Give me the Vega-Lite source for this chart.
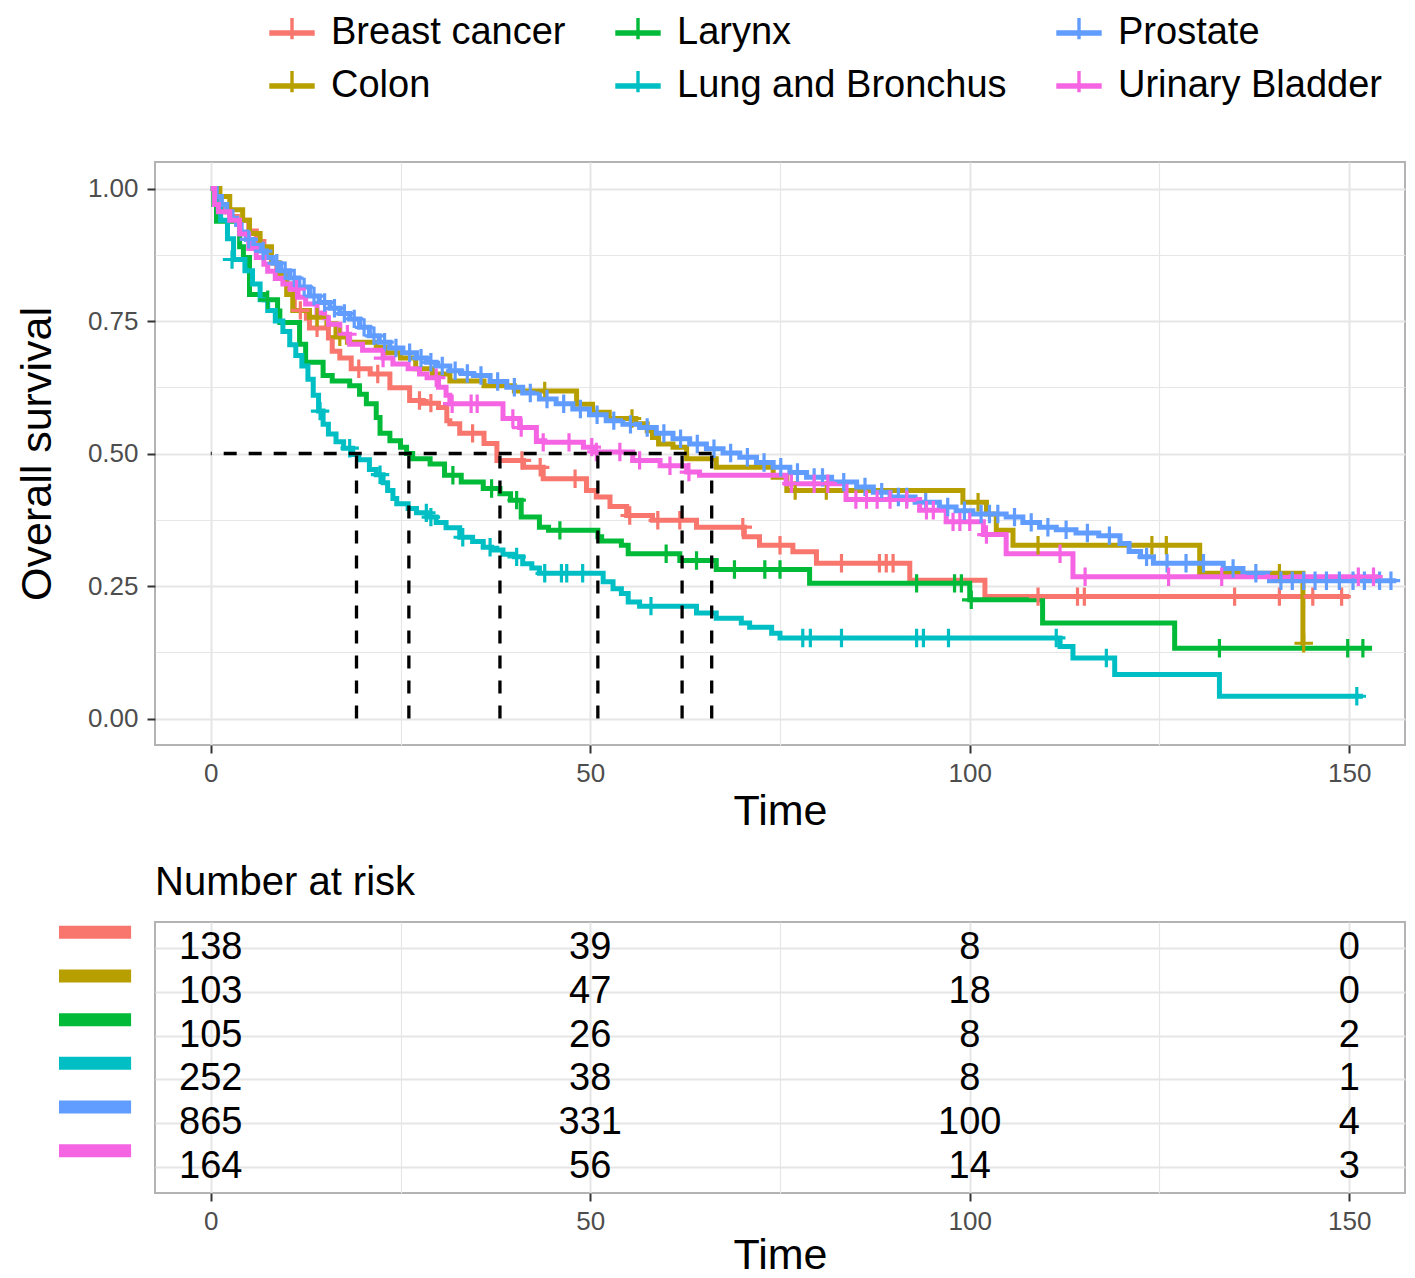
{
"$schema": "https://vega.github.io/schema/vega-lite/v6.json",
"background": "white",
"padding": {"left": 15, "top": 9, "right": 5, "bottom": 5},
"spacing": 28,
"datasets": {
"km": [
{"g":"Breast cancer","t":0,"s":1},{"g":"Breast cancer","t":0.8,"s":0.97},{"g":"Breast cancer","t":1.5,"s":0.956},{"g":"Breast cancer","t":2.5,"s":0.947},{"g":"Breast cancer","t":3.5,"s":0.94},{"g":"Breast cancer","t":5,"s":0.92},{"g":"Breast cancer","t":6,"s":0.9},{"g":"Breast cancer","t":7,"s":0.88},{"g":"Breast cancer","t":8,"s":0.86},{"g":"Breast cancer","t":8.7,"s":0.84},{"g":"Breast cancer","t":10,"s":0.82},{"g":"Breast cancer","t":11,"s":0.77},{"g":"Breast cancer","t":12.6,"s":0.755},{"g":"Breast cancer","t":13,"s":0.737},{"g":"Breast cancer","t":15.5,"s":0.718},{"g":"Breast cancer","t":16,"s":0.693},{"g":"Breast cancer","t":17,"s":0.68},{"g":"Breast cancer","t":18.5,"s":0.66},{"g":"Breast cancer","t":21,"s":0.65},{"g":"Breast cancer","t":23.6,"s":0.624},{"g":"Breast cancer","t":26.2,"s":0.6},{"g":"Breast cancer","t":28,"s":0.595},{"g":"Breast cancer","t":30,"s":0.587},{"g":"Breast cancer","t":31.1,"s":0.562},{"g":"Breast cancer","t":31.5,"s":0.556},{"g":"Breast cancer","t":32.8,"s":0.538},{"g":"Breast cancer","t":36,"s":0.519},{"g":"Breast cancer","t":37.7,"s":0.487},{"g":"Breast cancer","t":41.2,"s":0.474},{"g":"Breast cancer","t":43.8,"s":0.4525},{"g":"Breast cancer","t":49.5,"s":0.43},{"g":"Breast cancer","t":50.8,"s":0.418},{"g":"Breast cancer","t":52.6,"s":0.4},{"g":"Breast cancer","t":54.8,"s":0.383},{"g":"Breast cancer","t":58.2,"s":0.374},{"g":"Breast cancer","t":64,"s":0.361},{"g":"Breast cancer","t":70.3,"s":0.343},{"g":"Breast cancer","t":72.3,"s":0.327},{"g":"Breast cancer","t":76.7,"s":0.3146},{"g":"Breast cancer","t":79.8,"s":0.293},{"g":"Breast cancer","t":92.1,"s":0.261},{"g":"Breast cancer","t":102,"s":0.23},{"g":"Breast cancer","t":150,"s":0.23},
{"g":"Colon","t":0,"s":1},{"g":"Colon","t":1.2,"s":0.985},{"g":"Colon","t":2.5,"s":0.96},{"g":"Colon","t":4.2,"s":0.94},{"g":"Colon","t":5.1,"s":0.915},{"g":"Colon","t":6.5,"s":0.89},{"g":"Colon","t":8,"s":0.86},{"g":"Colon","t":9,"s":0.84},{"g":"Colon","t":10,"s":0.8},{"g":"Colon","t":10.8,"s":0.77},{"g":"Colon","t":13,"s":0.757},{"g":"Colon","t":15.3,"s":0.745},{"g":"Colon","t":16.5,"s":0.72},{"g":"Colon","t":18,"s":0.71},{"g":"Colon","t":21.8,"s":0.7},{"g":"Colon","t":23,"s":0.69},{"g":"Colon","t":25,"s":0.68},{"g":"Colon","t":27,"s":0.66},{"g":"Colon","t":29.2,"s":0.65},{"g":"Colon","t":31.5,"s":0.637},{"g":"Colon","t":36,"s":0.628},{"g":"Colon","t":40,"s":0.618},{"g":"Colon","t":48.2,"s":0.593},{"g":"Colon","t":50.3,"s":0.578},{"g":"Colon","t":52.5,"s":0.566},{"g":"Colon","t":56,"s":0.556},{"g":"Colon","t":57.5,"s":0.543},{"g":"Colon","t":58.2,"s":0.53},{"g":"Colon","t":59,"s":0.518},{"g":"Colon","t":60.9,"s":0.512},{"g":"Colon","t":62.7,"s":0.49},{"g":"Colon","t":66.6,"s":0.474},{"g":"Colon","t":74.1,"s":0.455},{"g":"Colon","t":75.9,"s":0.43},{"g":"Colon","t":99.1,"s":0.408},{"g":"Colon","t":102.2,"s":0.386},{"g":"Colon","t":103.5,"s":0.355},{"g":"Colon","t":105.7,"s":0.327},{"g":"Colon","t":130.3,"s":0.274},{"g":"Colon","t":143.9,"s":0.142},{"g":"Colon","t":144.1,"s":0.142},
{"g":"Larynx","t":0,"s":1},{"g":"Larynx","t":0.4,"s":0.97},{"g":"Larynx","t":0.75,"s":0.938},{"g":"Larynx","t":3.8,"s":0.89},{"g":"Larynx","t":4.3,"s":0.87},{"g":"Larynx","t":5.1,"s":0.8},{"g":"Larynx","t":7.1,"s":0.79},{"g":"Larynx","t":8.8,"s":0.769},{"g":"Larynx","t":9.1,"s":0.747},{"g":"Larynx","t":11.7,"s":0.706},{"g":"Larynx","t":12.5,"s":0.672},{"g":"Larynx","t":14.8,"s":0.647},{"g":"Larynx","t":16,"s":0.637},{"g":"Larynx","t":18.3,"s":0.628},{"g":"Larynx","t":19.6,"s":0.612},{"g":"Larynx","t":20.5,"s":0.594},{"g":"Larynx","t":21.8,"s":0.568},{"g":"Larynx","t":22.3,"s":0.538},{"g":"Larynx","t":23.6,"s":0.524},{"g":"Larynx","t":25,"s":0.512},{"g":"Larynx","t":25.8,"s":0.5},{"g":"Larynx","t":26.6,"s":0.49},{"g":"Larynx","t":28.9,"s":0.48},{"g":"Larynx","t":30.8,"s":0.459},{"g":"Larynx","t":33,"s":0.446},{"g":"Larynx","t":35.9,"s":0.434},{"g":"Larynx","t":38.1,"s":0.424},{"g":"Larynx","t":39.5,"s":0.412},{"g":"Larynx","t":40.9,"s":0.38},{"g":"Larynx","t":43.3,"s":0.361},{"g":"Larynx","t":44.5,"s":0.355},{"g":"Larynx","t":51,"s":0.343},{"g":"Larynx","t":51.5,"s":0.335},{"g":"Larynx","t":54.1,"s":0.327},{"g":"Larynx","t":55,"s":0.311},{"g":"Larynx","t":61.8,"s":0.298},{"g":"Larynx","t":66.6,"s":0.281},{"g":"Larynx","t":78.9,"s":0.255},{"g":"Larynx","t":100,"s":0.224},{"g":"Larynx","t":109.6,"s":0.18},{"g":"Larynx","t":127,"s":0.1325},{"g":"Larynx","t":153,"s":0.1325},
{"g":"Lung and Bronchus","t":0,"s":1},{"g":"Lung and Bronchus","t":0.7,"s":0.97},{"g":"Lung and Bronchus","t":1.3,"s":0.94},{"g":"Lung and Bronchus","t":2.2,"s":0.905},{"g":"Lung and Bronchus","t":3,"s":0.866},{"g":"Lung and Bronchus","t":4.5,"s":0.845},{"g":"Lung and Bronchus","t":5.5,"s":0.82},{"g":"Lung and Bronchus","t":6.5,"s":0.79},{"g":"Lung and Bronchus","t":7.5,"s":0.77},{"g":"Lung and Bronchus","t":8.5,"s":0.75},{"g":"Lung and Bronchus","t":9.5,"s":0.73},{"g":"Lung and Bronchus","t":10.4,"s":0.705},{"g":"Lung and Bronchus","t":11.2,"s":0.685},{"g":"Lung and Bronchus","t":12,"s":0.665},{"g":"Lung and Bronchus","t":12.8,"s":0.64},{"g":"Lung and Bronchus","t":13.5,"s":0.61},{"g":"Lung and Bronchus","t":14.2,"s":0.58},{"g":"Lung and Bronchus","t":14.8,"s":0.555},{"g":"Lung and Bronchus","t":15.5,"s":0.537},{"g":"Lung and Bronchus","t":16.5,"s":0.522},{"g":"Lung and Bronchus","t":17.5,"s":0.51},{"g":"Lung and Bronchus","t":18.7,"s":0.498},{"g":"Lung and Bronchus","t":19.5,"s":0.488},{"g":"Lung and Bronchus","t":20.9,"s":0.47},{"g":"Lung and Bronchus","t":21.8,"s":0.46},{"g":"Lung and Bronchus","t":22.7,"s":0.445},{"g":"Lung and Bronchus","t":23.3,"s":0.43},{"g":"Lung and Bronchus","t":24,"s":0.415},{"g":"Lung and Bronchus","t":24.5,"s":0.405},{"g":"Lung and Bronchus","t":26,"s":0.396},{"g":"Lung and Bronchus","t":27.1,"s":0.388},{"g":"Lung and Bronchus","t":28.5,"s":0.38},{"g":"Lung and Bronchus","t":29.7,"s":0.37},{"g":"Lung and Bronchus","t":31,"s":0.36},{"g":"Lung and Bronchus","t":32.8,"s":0.342},{"g":"Lung and Bronchus","t":34.5,"s":0.334},{"g":"Lung and Bronchus","t":35.9,"s":0.323},{"g":"Lung and Bronchus","t":37,"s":0.318},{"g":"Lung and Bronchus","t":38.5,"s":0.31},{"g":"Lung and Bronchus","t":40,"s":0.305},{"g":"Lung and Bronchus","t":41.1,"s":0.292},{"g":"Lung and Bronchus","t":42.3,"s":0.284},{"g":"Lung and Bronchus","t":43.3,"s":0.274},{"g":"Lung and Bronchus","t":51.7,"s":0.258},{"g":"Lung and Bronchus","t":53,"s":0.245},{"g":"Lung and Bronchus","t":54.1,"s":0.236},{"g":"Lung and Bronchus","t":55,"s":0.22},{"g":"Lung and Bronchus","t":56.5,"s":0.212},{"g":"Lung and Bronchus","t":64,"s":0.199},{"g":"Lung and Bronchus","t":66.6,"s":0.189},{"g":"Lung and Bronchus","t":69.9,"s":0.18},{"g":"Lung and Bronchus","t":71,"s":0.172},{"g":"Lung and Bronchus","t":73.9,"s":0.161},{"g":"Lung and Bronchus","t":75,"s":0.152},{"g":"Lung and Bronchus","t":111.9,"s":0.136},{"g":"Lung and Bronchus","t":113.6,"s":0.114},{"g":"Lung and Bronchus","t":119.1,"s":0.083},{"g":"Lung and Bronchus","t":132.9,"s":0.042},{"g":"Lung and Bronchus","t":151.8,"s":0.042},
{"g":"Prostate","t":0,"s":1},{"g":"Prostate","t":0.7,"s":0.985},{"g":"Prostate","t":1.4,"s":0.97},{"g":"Prostate","t":2.1,"s":0.956},{"g":"Prostate","t":2.8,"s":0.944},{"g":"Prostate","t":3.4,"s":0.932},{"g":"Prostate","t":4,"s":0.918},{"g":"Prostate","t":4.7,"s":0.904},{"g":"Prostate","t":5.6,"s":0.893},{"g":"Prostate","t":6.5,"s":0.882},{"g":"Prostate","t":7.3,"s":0.87},{"g":"Prostate","t":8.2,"s":0.859},{"g":"Prostate","t":9.2,"s":0.845},{"g":"Prostate","t":10.4,"s":0.831},{"g":"Prostate","t":11.6,"s":0.814},{"g":"Prostate","t":13,"s":0.797},{"g":"Prostate","t":14.3,"s":0.785},{"g":"Prostate","t":15.7,"s":0.774},{"g":"Prostate","t":17,"s":0.764},{"g":"Prostate","t":18.3,"s":0.754},{"g":"Prostate","t":19.6,"s":0.738},{"g":"Prostate","t":20.9,"s":0.722},{"g":"Prostate","t":22.2,"s":0.71},{"g":"Prostate","t":23.6,"s":0.699},{"g":"Prostate","t":25.3,"s":0.69},{"g":"Prostate","t":27.1,"s":0.68},{"g":"Prostate","t":28.4,"s":0.672},{"g":"Prostate","t":29.7,"s":0.665},{"g":"Prostate","t":31.5,"s":0.656},{"g":"Prostate","t":33,"s":0.651},{"g":"Prostate","t":34.6,"s":0.647},{"g":"Prostate","t":36.8,"s":0.636},{"g":"Prostate","t":39,"s":0.625},{"g":"Prostate","t":41.1,"s":0.614},{"g":"Prostate","t":43.3,"s":0.603},{"g":"Prostate","t":45.5,"s":0.594},{"g":"Prostate","t":47.7,"s":0.584},{"g":"Prostate","t":49.9,"s":0.573},{"g":"Prostate","t":52.1,"s":0.562},{"g":"Prostate","t":54.3,"s":0.555},{"g":"Prostate","t":56.5,"s":0.549},{"g":"Prostate","t":58.7,"s":0.538},{"g":"Prostate","t":60.9,"s":0.528},{"g":"Prostate","t":63.1,"s":0.518},{"g":"Prostate","t":65.3,"s":0.509},{"g":"Prostate","t":67.5,"s":0.501},{"g":"Prostate","t":69.7,"s":0.493},{"g":"Prostate","t":71.9,"s":0.483},{"g":"Prostate","t":74.1,"s":0.474},{"g":"Prostate","t":76.3,"s":0.464},{"g":"Prostate","t":78.5,"s":0.455},{"g":"Prostate","t":81.8,"s":0.446},{"g":"Prostate","t":85.1,"s":0.437},{"g":"Prostate","t":87.3,"s":0.427},{"g":"Prostate","t":89.5,"s":0.418},{"g":"Prostate","t":92.8,"s":0.408},{"g":"Prostate","t":96,"s":0.399},{"g":"Prostate","t":98.2,"s":0.392},{"g":"Prostate","t":100.4,"s":0.386},{"g":"Prostate","t":104.8,"s":0.38},{"g":"Prostate","t":107,"s":0.37},{"g":"Prostate","t":109.2,"s":0.361},{"g":"Prostate","t":111.4,"s":0.356},{"g":"Prostate","t":114,"s":0.35},{"g":"Prostate","t":117,"s":0.345},{"g":"Prostate","t":119.8,"s":0.33},{"g":"Prostate","t":121,"s":0.315},{"g":"Prostate","t":122.5,"s":0.305},{"g":"Prostate","t":124.2,"s":0.293},{"g":"Prostate","t":133.4,"s":0.283},{"g":"Prostate","t":136,"s":0.274},{"g":"Prostate","t":139.5,"s":0.26},{"g":"Prostate","t":156.2,"s":0.26},
{"g":"Urinary Bladder","t":0,"s":1},{"g":"Urinary Bladder","t":0.5,"s":0.97},{"g":"Urinary Bladder","t":1,"s":0.956},{"g":"Urinary Bladder","t":2.5,"s":0.94},{"g":"Urinary Bladder","t":3.8,"s":0.914},{"g":"Urinary Bladder","t":5,"s":0.887},{"g":"Urinary Bladder","t":6,"s":0.87},{"g":"Urinary Bladder","t":7,"s":0.857},{"g":"Urinary Bladder","t":7.5,"s":0.844},{"g":"Urinary Bladder","t":8.5,"s":0.83},{"g":"Urinary Bladder","t":9.5,"s":0.82},{"g":"Urinary Bladder","t":10.5,"s":0.81},{"g":"Urinary Bladder","t":11.5,"s":0.795},{"g":"Urinary Bladder","t":12.5,"s":0.782},{"g":"Urinary Bladder","t":14,"s":0.765},{"g":"Urinary Bladder","t":15,"s":0.756},{"g":"Urinary Bladder","t":15.5,"s":0.744},{"g":"Urinary Bladder","t":17,"s":0.725},{"g":"Urinary Bladder","t":18.3,"s":0.706},{"g":"Urinary Bladder","t":20,"s":0.695},{"g":"Urinary Bladder","t":22.7,"s":0.68},{"g":"Urinary Bladder","t":24,"s":0.669},{"g":"Urinary Bladder","t":26,"s":0.66},{"g":"Urinary Bladder","t":27.5,"s":0.65},{"g":"Urinary Bladder","t":28.5,"s":0.643},{"g":"Urinary Bladder","t":30,"s":0.625},{"g":"Urinary Bladder","t":31,"s":0.61},{"g":"Urinary Bladder","t":31.5,"s":0.594},{"g":"Urinary Bladder","t":38.5,"s":0.566},{"g":"Urinary Bladder","t":40.7,"s":0.549},{"g":"Urinary Bladder","t":42.9,"s":0.524},{"g":"Urinary Bladder","t":44,"s":0.521},{"g":"Urinary Bladder","t":49.1,"s":0.512},{"g":"Urinary Bladder","t":50.5,"s":0.503},{"g":"Urinary Bladder","t":55.6,"s":0.487},{"g":"Urinary Bladder","t":59.2,"s":0.477},{"g":"Urinary Bladder","t":62.7,"s":0.465},{"g":"Urinary Bladder","t":64.4,"s":0.459},{"g":"Urinary Bladder","t":75.8,"s":0.443},{"g":"Urinary Bladder","t":83.7,"s":0.413},{"g":"Urinary Bladder","t":93.4,"s":0.393},{"g":"Urinary Bladder","t":96.9,"s":0.371},{"g":"Urinary Bladder","t":101.8,"s":0.347},{"g":"Urinary Bladder","t":104.8,"s":0.311},{"g":"Urinary Bladder","t":113.6,"s":0.2675},{"g":"Urinary Bladder","t":154,"s":0.2675}
],
"censor": [
{"g":"Breast cancer","t":11.8,"s":0.77},{"g":"Breast cancer","t":14,"s":0.737},{"g":"Breast cancer","t":19.5,"s":0.66},{"g":"Breast cancer","t":22,"s":0.65},{"g":"Breast cancer","t":27.5,"s":0.6},{"g":"Breast cancer","t":29,"s":0.595},{"g":"Breast cancer","t":34.5,"s":0.538},{"g":"Breast cancer","t":41,"s":0.487},{"g":"Breast cancer","t":43.4,"s":0.474},{"g":"Breast cancer","t":48,"s":0.4525},{"g":"Breast cancer","t":55.2,"s":0.383},{"g":"Breast cancer","t":58.9,"s":0.374},{"g":"Breast cancer","t":61.8,"s":0.374},{"g":"Breast cancer","t":70.1,"s":0.361},{"g":"Breast cancer","t":75,"s":0.327},{"g":"Breast cancer","t":83.1,"s":0.293},{"g":"Breast cancer","t":88.1,"s":0.293},{"g":"Breast cancer","t":89,"s":0.293},{"g":"Breast cancer","t":89.9,"s":0.293},{"g":"Breast cancer","t":109,"s":0.23},{"g":"Breast cancer","t":114.2,"s":0.23},{"g":"Breast cancer","t":115.1,"s":0.23},{"g":"Breast cancer","t":134.9,"s":0.23},{"g":"Breast cancer","t":140.8,"s":0.23},{"g":"Breast cancer","t":145.2,"s":0.23},{"g":"Breast cancer","t":149,"s":0.23},
{"g":"Colon","t":14,"s":0.757},{"g":"Colon","t":17,"s":0.72},{"g":"Colon","t":44,"s":0.618},{"g":"Colon","t":55.5,"s":0.566},{"g":"Colon","t":77,"s":0.43},{"g":"Colon","t":81.1,"s":0.43},{"g":"Colon","t":101.1,"s":0.408},{"g":"Colon","t":109,"s":0.327},{"g":"Colon","t":124,"s":0.327},{"g":"Colon","t":125.9,"s":0.327},{"g":"Colon","t":140.8,"s":0.274},{"g":"Colon","t":144,"s":0.142},
{"g":"Larynx","t":7.5,"s":0.79},{"g":"Larynx","t":31.9,"s":0.459},{"g":"Larynx","t":37,"s":0.434},{"g":"Larynx","t":40.3,"s":0.412},{"g":"Larynx","t":46,"s":0.355},{"g":"Larynx","t":60,"s":0.311},{"g":"Larynx","t":64,"s":0.298},{"g":"Larynx","t":69,"s":0.281},{"g":"Larynx","t":73,"s":0.281},{"g":"Larynx","t":75,"s":0.281},{"g":"Larynx","t":93,"s":0.255},{"g":"Larynx","t":98,"s":0.255},{"g":"Larynx","t":98.9,"s":0.255},{"g":"Larynx","t":100.2,"s":0.224},{"g":"Larynx","t":132.9,"s":0.1325},{"g":"Larynx","t":149.8,"s":0.1325},{"g":"Larynx","t":151.8,"s":0.1325},
{"g":"Lung and Bronchus","t":2.8,"s":0.866},{"g":"Lung and Bronchus","t":14.4,"s":0.58},{"g":"Lung and Bronchus","t":18.3,"s":0.51},{"g":"Lung and Bronchus","t":22.3,"s":0.46},{"g":"Lung and Bronchus","t":28.4,"s":0.388},{"g":"Lung and Bronchus","t":29,"s":0.38},{"g":"Lung and Bronchus","t":33.2,"s":0.342},{"g":"Lung and Bronchus","t":36.8,"s":0.323},{"g":"Lung and Bronchus","t":40.3,"s":0.305},{"g":"Lung and Bronchus","t":44,"s":0.274},{"g":"Lung and Bronchus","t":46.2,"s":0.274},{"g":"Lung and Bronchus","t":46.9,"s":0.274},{"g":"Lung and Bronchus","t":49,"s":0.274},{"g":"Lung and Bronchus","t":58,"s":0.212},{"g":"Lung and Bronchus","t":78,"s":0.152},{"g":"Lung and Bronchus","t":79,"s":0.152},{"g":"Lung and Bronchus","t":83.1,"s":0.152},{"g":"Lung and Bronchus","t":93,"s":0.152},{"g":"Lung and Bronchus","t":93.9,"s":0.152},{"g":"Lung and Bronchus","t":97.2,"s":0.152},{"g":"Lung and Bronchus","t":111.4,"s":0.152},{"g":"Lung and Bronchus","t":118,"s":0.114},{"g":"Lung and Bronchus","t":151,"s":0.042},
{"g":"Prostate","t":5,"s":0.904},{"g":"Prostate","t":6.9,"s":0.882},{"g":"Prostate","t":8.7,"s":0.859},{"g":"Prostate","t":9.8,"s":0.845},{"g":"Prostate","t":11,"s":0.831},{"g":"Prostate","t":12.3,"s":0.814},{"g":"Prostate","t":13.6,"s":0.797},{"g":"Prostate","t":15,"s":0.785},{"g":"Prostate","t":16.3,"s":0.774},{"g":"Prostate","t":17.6,"s":0.764},{"g":"Prostate","t":18.9,"s":0.754},{"g":"Prostate","t":20.2,"s":0.738},{"g":"Prostate","t":21.5,"s":0.722},{"g":"Prostate","t":22.9,"s":0.71},{"g":"Prostate","t":24.4,"s":0.699},{"g":"Prostate","t":26.2,"s":0.69},{"g":"Prostate","t":27.7,"s":0.68},{"g":"Prostate","t":29,"s":0.672},{"g":"Prostate","t":30.5,"s":0.665},{"g":"Prostate","t":32.2,"s":0.656},{"g":"Prostate","t":33.8,"s":0.651},{"g":"Prostate","t":35.6,"s":0.647},{"g":"Prostate","t":37.8,"s":0.636},{"g":"Prostate","t":40,"s":0.625},{"g":"Prostate","t":42.1,"s":0.614},{"g":"Prostate","t":44.3,"s":0.603},{"g":"Prostate","t":46.5,"s":0.594},{"g":"Prostate","t":48.7,"s":0.584},{"g":"Prostate","t":50.9,"s":0.573},{"g":"Prostate","t":53.1,"s":0.562},{"g":"Prostate","t":55.3,"s":0.555},{"g":"Prostate","t":57.5,"s":0.549},{"g":"Prostate","t":59.7,"s":0.538},{"g":"Prostate","t":61.9,"s":0.528},{"g":"Prostate","t":64.1,"s":0.518},{"g":"Prostate","t":66.3,"s":0.509},{"g":"Prostate","t":68.5,"s":0.501},{"g":"Prostate","t":70.7,"s":0.493},{"g":"Prostate","t":72.9,"s":0.483},{"g":"Prostate","t":75.1,"s":0.474},{"g":"Prostate","t":77.3,"s":0.464},{"g":"Prostate","t":79.5,"s":0.455},{"g":"Prostate","t":80.6,"s":0.455},{"g":"Prostate","t":83.4,"s":0.446},{"g":"Prostate","t":86.2,"s":0.437},{"g":"Prostate","t":88.4,"s":0.427},{"g":"Prostate","t":90.6,"s":0.418},{"g":"Prostate","t":91.7,"s":0.418},{"g":"Prostate","t":94.2,"s":0.408},{"g":"Prostate","t":97.1,"s":0.399},{"g":"Prostate","t":99.3,"s":0.392},{"g":"Prostate","t":101.5,"s":0.386},{"g":"Prostate","t":102.6,"s":0.386},{"g":"Prostate","t":103.7,"s":0.386},{"g":"Prostate","t":105.9,"s":0.38},{"g":"Prostate","t":108.1,"s":0.37},{"g":"Prostate","t":110.3,"s":0.361},{"g":"Prostate","t":112.7,"s":0.356},{"g":"Prostate","t":115.5,"s":0.35},{"g":"Prostate","t":118.4,"s":0.345},{"g":"Prostate","t":123.3,"s":0.305},{"g":"Prostate","t":126,"s":0.293},{"g":"Prostate","t":128.5,"s":0.293},{"g":"Prostate","t":130.8,"s":0.293},{"g":"Prostate","t":134.7,"s":0.283},{"g":"Prostate","t":137.7,"s":0.274},{"g":"Prostate","t":141,"s":0.26},{"g":"Prostate","t":142.5,"s":0.26},{"g":"Prostate","t":144,"s":0.26},{"g":"Prostate","t":145.5,"s":0.26},{"g":"Prostate","t":147,"s":0.26},{"g":"Prostate","t":148.7,"s":0.26},{"g":"Prostate","t":150.5,"s":0.26},{"g":"Prostate","t":152,"s":0.26},{"g":"Prostate","t":154,"s":0.26},{"g":"Prostate","t":155.5,"s":0.26},
{"g":"Urinary Bladder","t":11.3,"s":0.81},{"g":"Urinary Bladder","t":18,"s":0.725},{"g":"Urinary Bladder","t":22.7,"s":0.68},{"g":"Urinary Bladder","t":29.7,"s":0.643},{"g":"Urinary Bladder","t":31.8,"s":0.594},{"g":"Urinary Bladder","t":34.3,"s":0.594},{"g":"Urinary Bladder","t":35.1,"s":0.594},{"g":"Urinary Bladder","t":39.8,"s":0.566},{"g":"Urinary Bladder","t":40.9,"s":0.549},{"g":"Urinary Bladder","t":43.8,"s":0.521},{"g":"Urinary Bladder","t":47.2,"s":0.521},{"g":"Urinary Bladder","t":50.2,"s":0.512},{"g":"Urinary Bladder","t":50.8,"s":0.503},{"g":"Urinary Bladder","t":53.9,"s":0.503},{"g":"Urinary Bladder","t":56.5,"s":0.487},{"g":"Urinary Bladder","t":60.5,"s":0.477},{"g":"Urinary Bladder","t":63,"s":0.465},{"g":"Urinary Bladder","t":76.5,"s":0.443},{"g":"Urinary Bladder","t":79.5,"s":0.443},{"g":"Urinary Bladder","t":81.3,"s":0.443},{"g":"Urinary Bladder","t":85,"s":0.413},{"g":"Urinary Bladder","t":86.4,"s":0.413},{"g":"Urinary Bladder","t":87.8,"s":0.413},{"g":"Urinary Bladder","t":89.5,"s":0.413},{"g":"Urinary Bladder","t":91.7,"s":0.413},{"g":"Urinary Bladder","t":94.3,"s":0.393},{"g":"Urinary Bladder","t":95.2,"s":0.393},{"g":"Urinary Bladder","t":97.8,"s":0.371},{"g":"Urinary Bladder","t":98.7,"s":0.371},{"g":"Urinary Bladder","t":100,"s":0.371},{"g":"Urinary Bladder","t":102.2,"s":0.347},{"g":"Urinary Bladder","t":111.9,"s":0.311},{"g":"Urinary Bladder","t":115.2,"s":0.2675},{"g":"Urinary Bladder","t":126.2,"s":0.2675},{"g":"Urinary Bladder","t":133.2,"s":0.2675},{"g":"Urinary Bladder","t":151.2,"s":0.2675},{"g":"Urinary Bladder","t":153.2,"s":0.2675}
],
"median": [
{"g":"Lung and Bronchus","t":19.2},{"g":"Larynx","t":26.1},{"g":"Breast cancer","t":38.1},{"g":"Urinary Bladder","t":51},{"g":"Colon","t":62.1},{"g":"Prostate","t":66}
],
"risk": [
{"g":"Breast cancer","t":0,"n":138},{"g":"Breast cancer","t":50,"n":39},{"g":"Breast cancer","t":100,"n":8},{"g":"Breast cancer","t":150,"n":0},
{"g":"Colon","t":0,"n":103},{"g":"Colon","t":50,"n":47},{"g":"Colon","t":100,"n":18},{"g":"Colon","t":150,"n":0},
{"g":"Larynx","t":0,"n":105},{"g":"Larynx","t":50,"n":26},{"g":"Larynx","t":100,"n":8},{"g":"Larynx","t":150,"n":2},
{"g":"Lung and Bronchus","t":0,"n":252},{"g":"Lung and Bronchus","t":50,"n":38},{"g":"Lung and Bronchus","t":100,"n":8},{"g":"Lung and Bronchus","t":150,"n":1},
{"g":"Prostate","t":0,"n":865},{"g":"Prostate","t":50,"n":331},{"g":"Prostate","t":100,"n":100},{"g":"Prostate","t":150,"n":4},
{"g":"Urinary Bladder","t":0,"n":164},{"g":"Urinary Bladder","t":50,"n":56},{"g":"Urinary Bladder","t":100,"n":14},{"g":"Urinary Bladder","t":150,"n":3}
]
},
"vconcat": [
{
"width": 1250,
"height": 583,
"layer": [
{
"data": {"name": "km"},
"mark": {"type": "line", "interpolate": "step-after", "strokeWidth": 5},
"encoding": {
"x": {"field": "t", "type": "quantitative", "scale": {"domain": [-7.35, 157.35], "nice": false, "zero": false},
 "axis": {"values": [0, 25, 50, 75, 100, 125, 150], "grid": true,
  "gridWidth": {"condition": {"test": "datum.value % 50 != 0", "value": 1.2}, "value": 2},
  "tickOpacity": {"condition": {"test": "datum.value % 50 != 0", "value": 0}, "value": 1},
  "labelExpr": "datum.value % 50 == 0 ? datum.label : ''",
  "title": "Time", "titlePadding": 4, "labelPadding": 7}},
"y": {"field": "s", "type": "quantitative", "scale": {"domain": [-0.05, 1.05], "nice": false, "zero": false},
 "axis": {"values": [0, 0.125, 0.25, 0.375, 0.5, 0.625, 0.75, 0.875, 1], "format": ".2f", "grid": true,
  "gridWidth": {"condition": {"test": "(datum.value * 4) % 1 != 0", "value": 1.2}, "value": 2},
  "tickOpacity": {"condition": {"test": "(datum.value * 4) % 1 != 0", "value": 0}, "value": 1},
  "labelExpr": "(datum.value * 4) % 1 == 0 ? datum.label : ''",
  "title": "Overall survival", "titlePadding": 28, "labelPadding": 9}},
"color": {"field": "g", "type": "nominal",
 "scale": {"domain": ["Breast cancer", "Larynx", "Prostate", "Colon", "Lung and Bronchus", "Urinary Bladder"], "range": ["#F8766D", "#00BA38", "#619CFF", "#B79F00", "#00BFC4", "#F564E3"]},
 "legend": {"orient": "none", "legendX": 114, "legendY": -152, "direction": "horizontal", "columns": 3, "title": null, "padding": 0,
  "symbolType": "M-1,-0.05H1V0.05H-1Z M0,-0.72V-0.05 M0,0.05V0.3", "symbolSize": 1764, "symbolStrokeWidth": 3.4, "symbolOpacity": 1,
  "labelFontSize": 38, "labelColor": "black", "labelLimit": 700, "labelOffset": 16, "columnPadding": 44, "rowPadding": 11}}
}
},
{
"data": {"name": "censor"},
"mark": {"type": "point", "shape": "M-1,0H1M0,-1V1", "size": 340, "strokeWidth": 3.2, "filled": false, "opacity": 1},
"encoding": {
"x": {"field": "t", "type": "quantitative"},
"y": {"field": "s", "type": "quantitative"},
"color": {"field": "g", "type": "nominal"}
}
},
{
"data": {"name": "median"},
"mark": {"type": "rule", "color": "black", "strokeWidth": 3.3, "strokeDash": [13, 12]},
"encoding": {
"x": {"field": "t", "type": "quantitative"},
"y": {"datum": 0, "type": "quantitative"},
"y2": {"datum": 0.5}
}
},
{
"data": {"name": "median"},
"transform": [{"aggregate": [{"op": "max", "field": "t", "as": "tmax"}]}],
"mark": {"type": "rule", "color": "black", "strokeWidth": 3.3, "strokeDash": [13, 12]},
"encoding": {
"x": {"field": "tmax", "type": "quantitative"},
"x2": {"datum": 0},
"y": {"datum": 0.5, "type": "quantitative"}
}
}
]
},
{
"width": 1250,
"height": 271,
"title": {"text": "Number at risk", "anchor": "start", "frame": "group", "fontSize": 40, "fontWeight": "normal", "color": "black", "offset": 19},
"data": {"name": "risk"},
"layer": [
{
"mark": {"type": "text", "fontSize": 38, "color": "black", "baseline": "middle", "align": "center"},
"encoding": {
"x": {"field": "t", "type": "quantitative", "scale": {"domain": [-7.35, 157.35], "nice": false, "zero": false},
 "axis": {"values": [0, 25, 50, 75, 100, 125, 150], "grid": true,
  "gridWidth": {"condition": {"test": "datum.value % 50 != 0", "value": 1.2}, "value": 2},
  "tickOpacity": {"condition": {"test": "datum.value % 50 != 0", "value": 0}, "value": 1},
  "labelExpr": "datum.value % 50 == 0 ? datum.label : ''",
  "title": "Time", "titlePadding": 0, "labelPadding": 7}},
"y": {"field": "g", "type": "nominal",
 "scale": {"type": "point", "padding": 0.6, "domain": ["Breast cancer", "Colon", "Larynx", "Lung and Bronchus", "Prostate", "Urinary Bladder"]},
 "axis": {"grid": true, "gridWidth": 2, "labels": false, "ticks": false, "domain": false, "title": null}},
"text": {"field": "n", "type": "quantitative"}
}
},
{
"transform": [{"filter": "datum.t == 0"}],
"mark": {"type": "rule", "strokeWidth": 13, "yOffset": -16, "strokeCap": "butt"},
"encoding": {
"x": {"datum": -20, "type": "quantitative"},
"x2": {"datum": -10.5},
"y": {"field": "g", "type": "nominal"},
"color": {"field": "g", "type": "nominal",
 "scale": {"domain": ["Breast cancer", "Colon", "Larynx", "Lung and Bronchus", "Prostate", "Urinary Bladder"], "range": ["#F8766D", "#B79F00", "#00BA38", "#00BFC4", "#619CFF", "#F564E3"]},
 "legend": null}
}
}
]
}
],
"resolve": {"scale": {"color": "independent"}, "legend": {"color": "independent"}},
"config": {
"font": "Liberation Sans",
"view": {"stroke": "#b3b3b3", "strokeWidth": 2},
"axis": {"labelFontSize": 26, "labelColor": "#4d4d4d", "tickColor": "#333333", "tickWidth": 2, "tickSize": 8, "titleFontSize": 43, "titleFontWeight": "normal", "titleColor": "black", "gridColor": "#e6e6e6", "domain": false}
}
}
